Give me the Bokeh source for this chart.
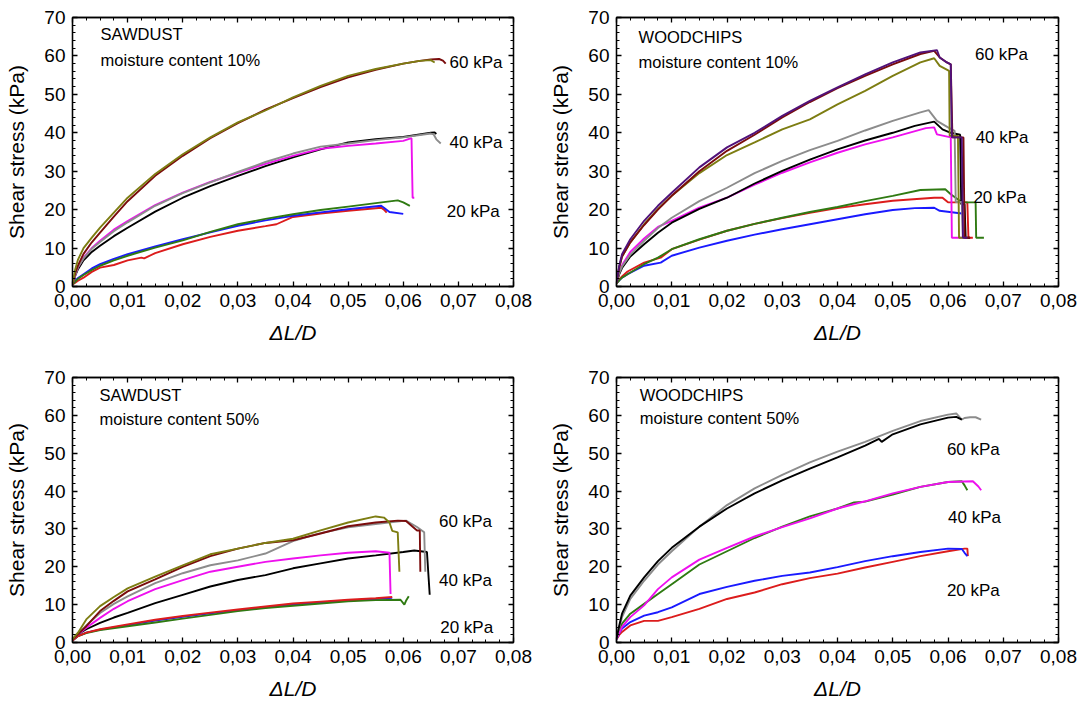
from bokeh.plotting import figure
from bokeh.models import (Range1d, LinearAxis, FixedTicker, CustomJSTickFormatter,
                          ColumnDataSource)
from bokeh.layouts import column, row
from bokeh.core.properties import value
from bokeh.embed import file_html
from bokeh.resources import INLINE

FONT = "Liberation Sans"

# ---------------- colours ----------------
OLIVE = "#7d7d12"
MAROON = "#7a0c0c"
PURPLE = "#51127a"
GREY = "#8c8c8c"
MAGENTA = "#ee10ee"
BLACK = "#000000"
BLUE = "#1a1aff"
RED = "#dc1c1c"
GREEN = "#2f7a12"

# ---------------- axes ----------------
X_TICKS = [0.0, 0.01, 0.02, 0.03, 0.04, 0.05, 0.06, 0.07, 0.08]
X_MINOR = [i * 0.0025 for i in range(33)]
Y_TICKS = [0, 10, 20, 30, 40, 50, 60, 70]
Y_MINOR = [i * 2 for i in range(36)]

# ---------------- panel 1: SAWDUST, moisture 10% ----------------
SD10_OLIVE_X = [0, 0.0005, 0.001, 0.002, 0.0035, 0.005, 0.0075, 0.01, 0.015, 0.02, 0.025, 0.03, 0.035, 0.04, 0.045, 0.05, 0.055, 0.06, 0.063, 0.065, 0.0657]
SD10_OLIVE_Y = [0.5, 4.5, 7, 10, 12.7, 15.3, 19.2, 23.1, 29.3, 34.4, 38.8, 42.7, 45.8, 49.2, 52.2, 54.8, 56.6, 58, 58.7, 58.9, 58.3]
SD10_MAROON_X = [0, 0.0005, 0.001, 0.002, 0.0035, 0.005, 0.0075, 0.01, 0.015, 0.02, 0.025, 0.03, 0.035, 0.04, 0.045, 0.05, 0.055, 0.06, 0.063, 0.065, 0.0665, 0.0672, 0.0677]
SD10_MAROON_Y = [0.5, 3.5, 5.5, 8.5, 11.5, 14, 18.2, 22.2, 28.8, 34, 38.6, 42.5, 46, 49, 51.9, 54.4, 56.4, 58, 58.7, 59.1, 59.2, 58.8, 58.0]
SD10_MAGENTA_X = [0, 0.0005, 0.001, 0.002, 0.0035, 0.005, 0.0075, 0.01, 0.015, 0.02, 0.025, 0.03, 0.035, 0.04, 0.045, 0.048, 0.05, 0.055, 0.06, 0.0615, 0.0617, 0.062]
SD10_MAGENTA_Y = [0.5, 3, 5, 7.5, 10, 11.9, 14.8, 17, 21.2, 24.4, 27.2, 29.6, 31.9, 34, 35.8, 36.3, 36.6, 37.2, 37.9, 38.6, 23.1, 23.1]
SD10_GREY_X = [0, 0.0005, 0.001, 0.002, 0.0035, 0.005, 0.0075, 0.01, 0.015, 0.02, 0.025, 0.03, 0.035, 0.04, 0.045, 0.05, 0.055, 0.06, 0.065, 0.0655, 0.066, 0.0668]
SD10_GREY_Y = [0.5, 3, 5, 7.3, 9.8, 11.6, 14.4, 16.7, 21, 24.3, 27.1, 29.8, 32.4, 34.6, 36.4, 37.2, 38.1, 38.8, 39.8, 39.6, 38.3, 37.2]
SD10_BLACK_X = [0, 0.0005, 0.001, 0.002, 0.0035, 0.005, 0.0075, 0.01, 0.015, 0.02, 0.025, 0.03, 0.035, 0.04, 0.045, 0.05, 0.055, 0.06, 0.065, 0.0657, 0.066]
SD10_BLACK_Y = [0.5, 2.8, 4.5, 6.8, 9, 10.6, 13.1, 15.3, 19.5, 23.1, 26.1, 28.8, 31.3, 33.6, 35.7, 37.5, 38.3, 38.9, 40, 40.1, 39.7]
SD10_BLUE_X = [0, 0.0005, 0.001, 0.002, 0.0035, 0.005, 0.0075, 0.01, 0.015, 0.02, 0.025, 0.03, 0.035, 0.04, 0.045, 0.05, 0.056, 0.0565, 0.0575, 0.06]
SD10_BLUE_Y = [0.5, 1.5, 2.2, 3.2, 4.7, 5.8, 7.2, 8.4, 10.4, 12.3, 14.1, 15.8, 17.2, 18.4, 19.3, 20.1, 21, 20.5, 19.4, 18.9]
SD10_GREEN_X = [0, 0.0005, 0.001, 0.002, 0.0035, 0.005, 0.0075, 0.01, 0.015, 0.02, 0.025, 0.03, 0.035, 0.04, 0.045, 0.05, 0.055, 0.059, 0.06, 0.0612]
SD10_GREEN_Y = [0.5, 1.3, 2, 3, 4.3, 5.4, 6.8, 8, 10.1, 12, 14.2, 16.2, 17.6, 18.8, 19.9, 20.8, 21.7, 22.4, 21.9, 21]
SD10_RED_X = [0, 0.0005, 0.001, 0.002, 0.0035, 0.005, 0.0075, 0.01, 0.0125, 0.013, 0.015, 0.02, 0.025, 0.03, 0.035, 0.037, 0.04, 0.045, 0.05, 0.056, 0.0565, 0.057]
SD10_RED_Y = [0.5, 1.0, 1.5, 2.3, 3.8, 4.9, 5.6, 6.8, 7.5, 7.3, 8.7, 11, 12.9, 14.5, 15.7, 16.2, 18.1, 19, 19.7, 20.5, 20, 19.2]

# ---------------- panel 2: WOODCHIPS, moisture 10% ----------------
WC10_PURPLE_X = [0, 0.0005, 0.001, 0.0025, 0.005, 0.0075, 0.01, 0.015, 0.02, 0.025, 0.03, 0.035, 0.04, 0.045, 0.05, 0.055, 0.058, 0.0585, 0.0598, 0.0605, 0.0607, 0.0625, 0.0627, 0.0635]
WC10_PURPLE_Y = [1, 5.5, 8.4, 12.3, 17.1, 21, 24.4, 31, 36.2, 40, 44.4, 48.3, 51.8, 55.2, 58.3, 60.9, 61.5, 59.6, 58.3, 57.8, 38.8, 38.8, 12.7, 12.7]
WC10_MAROON_X = [0, 0.0005, 0.001, 0.0025, 0.005, 0.0075, 0.01, 0.015, 0.02, 0.025, 0.03, 0.035, 0.04, 0.045, 0.05, 0.055, 0.0575, 0.0585, 0.0598, 0.0605, 0.0608, 0.0628, 0.063, 0.064]
WC10_MAROON_Y = [1, 5, 7.8, 11.5, 16, 20, 23.6, 30, 35.3, 39.5, 44, 48, 51.6, 54.8, 57.8, 60.5, 61.3, 59.6, 58.3, 57.8, 38.8, 38.8, 12.7, 12.7]
WC10_OLIVE_X = [0, 0.0005, 0.001, 0.0025, 0.005, 0.0075, 0.01, 0.015, 0.02, 0.025, 0.03, 0.035, 0.04, 0.045, 0.05, 0.055, 0.0575, 0.0585, 0.0602, 0.0603, 0.0618, 0.062, 0.0628]
WC10_OLIVE_Y = [1, 5, 7.8, 11.5, 16.2, 20.2, 23.6, 29.5, 34.2, 37.5, 40.9, 43.5, 47.4, 50.9, 54.8, 58.3, 59.4, 57.4, 56.1, 39.2, 39.2, 12.7, 12.7]
WC10_GREY_X = [0, 0.0005, 0.001, 0.0025, 0.005, 0.0075, 0.01, 0.015, 0.02, 0.025, 0.03, 0.035, 0.04, 0.045, 0.05, 0.055, 0.0565, 0.058, 0.06, 0.0612, 0.0614, 0.0625, 0.0627, 0.0635]
WC10_GREY_Y = [1, 3.5, 5.2, 8.3, 11.9, 15.2, 17.9, 22.2, 25.7, 29.5, 32.7, 35.5, 37.9, 40.6, 43.1, 45.3, 45.9, 43.1, 41.4, 40.5, 22, 22, 12.7, 12.7]
WC10_BLACK_X = [0, 0.0005, 0.001, 0.0025, 0.005, 0.0075, 0.01, 0.015, 0.02, 0.025, 0.03, 0.035, 0.04, 0.045, 0.05, 0.054, 0.0575, 0.059, 0.0605, 0.0622, 0.0624, 0.063, 0.0632, 0.064]
WC10_BLACK_Y = [1, 3.2, 4.8, 7.8, 11, 14, 16.6, 20.2, 23.1, 26.8, 30.1, 33, 35.7, 38, 40, 41.8, 42.9, 40.9, 40, 39.5, 21.4, 21.4, 12.7, 12.7]
WC10_MAGENTA_X = [0, 0.0005, 0.001, 0.0025, 0.005, 0.0075, 0.01, 0.015, 0.02, 0.025, 0.03, 0.035, 0.04, 0.045, 0.05, 0.056, 0.0575, 0.058, 0.0605, 0.0607, 0.0625]
WC10_MAGENTA_Y = [1, 3.5, 5.5, 9, 12.5, 15.5, 17.1, 20.5, 23.1, 26.5, 29.6, 32.3, 34.8, 37, 38.8, 41.2, 41.4, 39.6, 38.8, 12.7, 12.7]
WC10_GREEN_X = [0, 0.0005, 0.001, 0.002, 0.005, 0.0075, 0.01, 0.015, 0.02, 0.025, 0.03, 0.035, 0.04, 0.045, 0.05, 0.055, 0.0595, 0.0605, 0.0625, 0.065, 0.0651, 0.0665]
WC10_GREEN_Y = [0.8, 1.6, 2.3, 3.2, 5.8, 7.5, 9.7, 12.3, 14.5, 16.3, 17.9, 19.4, 20.7, 22.2, 23.6, 25.1, 25.3, 24, 21.9, 21.9, 12.7, 12.7]
WC10_RED_X = [0, 0.0005, 0.001, 0.002, 0.005, 0.008, 0.01, 0.015, 0.02, 0.025, 0.03, 0.035, 0.04, 0.045, 0.05, 0.0575, 0.059, 0.06, 0.0635, 0.0637, 0.0645]
WC10_RED_Y = [0.8, 1.8, 2.6, 3.9, 6.2, 7.5, 9.7, 12.2, 14.5, 16.3, 17.8, 19.2, 20.4, 21.4, 22.3, 23.1, 23.1, 21.9, 21.9, 12.7, 12.7]
WC10_BLUE_X = [0, 0.0005, 0.001, 0.002, 0.005, 0.008, 0.01, 0.015, 0.02, 0.025, 0.03, 0.035, 0.04, 0.045, 0.05, 0.054, 0.0575, 0.0585, 0.0625]
WC10_BLUE_Y = [0.8, 1.6, 2.3, 3.2, 5.4, 6.2, 8, 10.1, 11.9, 13.5, 14.9, 16.2, 17.5, 18.8, 19.9, 20.4, 20.5, 19.7, 19]

# ---------------- panel 3: SAWDUST, moisture 50% ----------------
SD50_OLIVE_X = [0, 0.0005, 0.001, 0.0025, 0.005, 0.0075, 0.01, 0.015, 0.02, 0.025, 0.03, 0.035, 0.04, 0.045, 0.05, 0.055, 0.0565, 0.0575, 0.058, 0.059, 0.0593]
SD50_OLIVE_Y = [0.8, 1.8, 2.6, 6.1, 9.6, 12, 14.3, 17.4, 20.4, 23.3, 24.8, 26.3, 27.4, 29.6, 31.7, 33.3, 33, 31.7, 29.5, 29.1, 18.7]
SD50_MAROON_X = [0, 0.0005, 0.001, 0.0025, 0.005, 0.0075, 0.01, 0.015, 0.02, 0.025, 0.03, 0.035, 0.04, 0.045, 0.05, 0.055, 0.059, 0.0605, 0.0625, 0.063, 0.0631]
SD50_MAROON_Y = [0.8, 1.5, 2.2, 4.3, 8.3, 11, 13.5, 16.7, 20, 22.8, 24.8, 26.3, 27, 28.8, 30.7, 31.7, 32.2, 32.1, 29.6, 29.6, 18.7]
SD50_GREY_X = [0, 0.0005, 0.001, 0.0025, 0.005, 0.0075, 0.01, 0.015, 0.02, 0.025, 0.03, 0.035, 0.04, 0.045, 0.05, 0.055, 0.0605, 0.0625, 0.0638, 0.064]
SD50_GREY_Y = [0.8, 1.5, 2.2, 4.5, 7.8, 10.2, 12.2, 15.7, 18.3, 20.4, 21.7, 23.5, 26.8, 28.9, 30.4, 31.3, 32.2, 30.5, 29.1, 18.7]
SD50_MAGENTA_X = [0, 0.0005, 0.001, 0.0025, 0.005, 0.0075, 0.01, 0.015, 0.02, 0.025, 0.03, 0.035, 0.04, 0.045, 0.05, 0.055, 0.0575, 0.0577]
SD50_MAGENTA_Y = [0.8, 1.5, 2.2, 3.9, 6.5, 8.9, 10.9, 14.1, 16.5, 18.7, 20, 21.3, 22.2, 23, 23.7, 24.1, 23.7, 12.8]
SD50_BLACK_X = [0, 0.0005, 0.001, 0.0025, 0.005, 0.0075, 0.01, 0.015, 0.02, 0.025, 0.03, 0.035, 0.04, 0.045, 0.05, 0.055, 0.06, 0.062, 0.0643, 0.0648]
SD50_BLACK_Y = [0.8, 1.5, 2.2, 3.5, 5.2, 6.6, 7.8, 10.4, 12.6, 14.8, 16.5, 17.8, 19.6, 20.9, 22.2, 23, 23.9, 24.3, 23.9, 12.6]
SD50_RED_X = [0, 0.0005, 0.001, 0.0025, 0.005, 0.01, 0.015, 0.02, 0.025, 0.03, 0.035, 0.04, 0.045, 0.05, 0.055, 0.058]
SD50_RED_Y = [0.5, 1.1, 1.7, 2.6, 3.5, 4.8, 6, 7, 7.9, 8.7, 9.5, 10.3, 10.8, 11.3, 11.7, 12]
SD50_BLUE_X = [0, 0.0005, 0.001, 0.0025, 0.005, 0.01, 0.015, 0.02, 0.025, 0.03, 0.035, 0.04, 0.045, 0.05, 0.055, 0.058]
SD50_BLUE_Y = [0.5, 1.1, 1.7, 2.6, 3.4, 4.6, 5.8, 6.8, 7.7, 8.5, 9.3, 10.0, 10.6, 11.1, 11.5, 11.8]
SD50_GREEN_X = [0, 0.0005, 0.001, 0.0025, 0.005, 0.01, 0.015, 0.02, 0.025, 0.03, 0.035, 0.04, 0.045, 0.05, 0.055, 0.0595, 0.0602, 0.0605, 0.061]
SD50_GREEN_Y = [0.5, 1.1, 1.7, 2.5, 3.3, 4.3, 5.3, 6.3, 7.3, 8.3, 9.1, 9.7, 10.3, 10.9, 11.2, 11.3, 10.0, 11.0, 12.2]

# ---------------- panel 4: WOODCHIPS, moisture 50% ----------------
WC50_BLACK_X = [0, 0.0005, 0.001, 0.0025, 0.005, 0.0075, 0.01, 0.015, 0.02, 0.025, 0.03, 0.035, 0.04, 0.045, 0.0475, 0.048, 0.05, 0.055, 0.06, 0.0615, 0.0625]
WC50_BLACK_Y = [1, 4.5, 7.6, 12.4, 17.2, 21.5, 25, 30.6, 35.4, 39.4, 42.8, 45.9, 48.9, 52, 53.8, 53.0, 55, 57.6, 59.4, 59.6, 58.9]
WC50_GREY_X = [0, 0.0005, 0.001, 0.0025, 0.005, 0.0075, 0.01, 0.015, 0.02, 0.025, 0.03, 0.035, 0.04, 0.045, 0.05, 0.055, 0.06, 0.0615, 0.0625, 0.063, 0.064, 0.065, 0.066]
WC50_GREY_Y = [1, 4, 6.7, 11.5, 16.3, 20.6, 24.1, 30.6, 36.3, 40.7, 44.3, 47.6, 50.4, 53, 55.9, 58.5, 60.2, 60.5, 58.9, 59.3, 59.5, 59.5, 58.9]
WC50_GREEN_X = [0, 0.0005, 0.001, 0.0025, 0.005, 0.0075, 0.01, 0.015, 0.02, 0.025, 0.03, 0.035, 0.04, 0.043, 0.045, 0.05, 0.055, 0.06, 0.0625, 0.063, 0.0635]
WC50_GREEN_Y = [1, 3, 5, 7.6, 10.2, 12.8, 15.4, 20.6, 24.1, 27.6, 30.6, 33.3, 35.4, 37, 37.2, 39.1, 41.1, 42.4, 42.6, 41.5, 40.2]
WC50_MAGENTA_X = [0, 0.0005, 0.001, 0.0025, 0.005, 0.0075, 0.01, 0.015, 0.02, 0.025, 0.03, 0.035, 0.04, 0.045, 0.05, 0.055, 0.06, 0.0645, 0.0655, 0.066]
WC50_MAGENTA_Y = [1, 2.5, 4.1, 6.7, 9.8, 14.1, 17.2, 21.9, 25, 28, 30.5, 32.8, 35.4, 37.3, 39.4, 41.1, 42.4, 42.6, 41.2, 40.2]
WC50_BLUE_X = [0, 0.0005, 0.001, 0.0025, 0.005, 0.0075, 0.01, 0.015, 0.02, 0.025, 0.03, 0.035, 0.04, 0.045, 0.05, 0.055, 0.06, 0.0625, 0.063, 0.0635]
WC50_BLUE_Y = [0.8, 2.5, 3.7, 5.4, 7.1, 8, 9.3, 12.8, 14.7, 16.3, 17.6, 18.5, 19.9, 21.5, 22.8, 23.9, 24.8, 24.7, 23.7, 22.8]
WC50_RED_X = [0, 0.0005, 0.001, 0.0025, 0.005, 0.0075, 0.01, 0.015, 0.02, 0.025, 0.03, 0.035, 0.04, 0.045, 0.05, 0.055, 0.06, 0.063, 0.0635, 0.0636]
WC50_RED_Y = [0.8, 2, 2.8, 4.5, 5.7, 5.7, 6.7, 8.9, 11.5, 13.2, 15.4, 17, 18.2, 19.8, 21.3, 22.8, 24.1, 24.8, 24.8, 22.8]

# ---------------- labels ----------------
LOAD_LABELS = ["60 kPa", "40 kPa", "20 kPa"]
P1_LABEL_X = [0.0684, 0.0684, 0.0679]
P1_LABEL_Y = [58.3, 37.5, 19.5]
P2_LABEL_X = [0.0649, 0.065, 0.0646]
P2_LABEL_Y = [60.4, 38.9, 23.1]
P3_LABEL_X = [0.0665, 0.0665, 0.0667]
P3_LABEL_Y = [32.0, 16.5, 3.9]
P4_LABEL_X = [0.0598, 0.0600, 0.0598]
P4_LABEL_Y = [51.1, 33.0, 13.8]

TITLES = [("SAWDUST", "moisture content 10%"), ("WOODCHIPS", "moisture content 10%"),
          ("SAWDUST", "moisture content 50%"), ("WOODCHIPS", "moisture content 50%")]
TITLE_X = [0.0051, 0.0040, 0.0049, 0.0042]
TITLE_Y1 = [65.8, 64.9, 65.5, 65.5]
TITLE_Y2 = [59.0, 58.3, 59.0, 59.4]


def style_axis(ax, labels=True):
    ax.axis_line_color = "black"
    ax.axis_line_width = 1.3
    ax.major_tick_in = 5
    ax.major_tick_out = 0
    ax.minor_tick_in = 3
    ax.minor_tick_out = 0
    ax.major_tick_line_color = "black"
    ax.minor_tick_line_color = "black"
    ax.major_tick_line_width = 1.3
    ax.minor_tick_line_width = 1
    if labels:
        ax.major_label_text_font = FONT
        ax.major_label_text_font_size = "19px"
        ax.major_label_text_color = "black"
        ax.axis_label_text_font = FONT
        ax.axis_label_text_font_size = "21px"
        ax.axis_label_text_color = "black"
    else:
        ax.major_label_text_font_size = "0px"
        ax.major_label_standoff = 0


def make_panel(w, h, ml, mr, mt, mb, curves, lab_x, lab_y, idx):
    p = figure(width=w, height=h, x_range=Range1d(0, 0.08), y_range=Range1d(0, 70),
               output_backend="svg", toolbar_location=None,
               min_border_left=ml, min_border_right=mr, min_border_top=mt, min_border_bottom=mb)
    p.xgrid.visible = False
    p.ygrid.visible = False
    p.outline_line_color = "black"
    p.outline_line_width = 1.3
    p.background_fill_color = "white"
    p.border_fill_color = "white"

    xt = FixedTicker(ticks=X_TICKS, minor_ticks=X_MINOR)
    yt = FixedTicker(ticks=Y_TICKS, minor_ticks=Y_MINOR)

    xa = p.xaxis[0]
    style_axis(xa)
    xa.ticker = xt
    xa.formatter = CustomJSTickFormatter(code="return tick.toFixed(2).replace('.', ',');")
    xa.axis_label = "\u0394L/D"
    xa.axis_label_text_font_style = "italic"
    xa.major_label_standoff = 7
    xa.axis_label_standoff = 11

    ya = p.yaxis[0]
    style_axis(ya)
    ya.ticker = yt
    ya.axis_label = "Shear stress (kPa)"
    ya.axis_label_text_font_style = "normal"
    ya.major_label_standoff = 7
    ya.axis_label_standoff = 13

    top = LinearAxis(ticker=xt, formatter=CustomJSTickFormatter(code="return '';"))
    style_axis(top, labels=False)
    right = LinearAxis(ticker=yt, formatter=CustomJSTickFormatter(code="return '';"))
    style_axis(right, labels=False)
    p.add_layout(top, "above")
    p.add_layout(right, "right")

    for xs, ys, col in curves:
        p.line(xs, ys, line_color=col, line_width=1.9)

    src = ColumnDataSource(dict(x=lab_x, y=lab_y, t=LOAD_LABELS))
    p.text(x="x", y="y", text="t", source=src, text_font=value(FONT),
           text_font_size=value("17px"), text_color="black",
           text_align="left", text_baseline="middle")

    tsrc = ColumnDataSource(dict(x=[TITLE_X[idx], TITLE_X[idx]],
                                 y=[TITLE_Y1[idx], TITLE_Y2[idx]],
                                 t=list(TITLES[idx])))
    p.text(x="x", y="y", text="t", source=tsrc, text_font=value(FONT),
           text_font_size=value("16.5px"), text_color="black",
           text_align="left", text_baseline="middle")
    return p


p1 = make_panel(540, 352, 72, 27, 17, 66, [
    (SD10_RED_X, SD10_RED_Y, RED),
    (SD10_BLUE_X, SD10_BLUE_Y, BLUE),
    (SD10_GREEN_X, SD10_GREEN_Y, GREEN),
    (SD10_BLACK_X, SD10_BLACK_Y, BLACK),
    (SD10_MAGENTA_X, SD10_MAGENTA_Y, MAGENTA),
    (SD10_GREY_X, SD10_GREY_Y, GREY),
    (SD10_MAROON_X, SD10_MAROON_Y, MAROON),
    (SD10_OLIVE_X, SD10_OLIVE_Y, OLIVE),
], P1_LABEL_X, P1_LABEL_Y, 0)

p2 = make_panel(540, 352, 76, 22, 17, 66, [
    (WC10_BLUE_X, WC10_BLUE_Y, BLUE),
    (WC10_RED_X, WC10_RED_Y, RED),
    (WC10_GREEN_X, WC10_GREEN_Y, GREEN),
    (WC10_MAGENTA_X, WC10_MAGENTA_Y, MAGENTA),
    (WC10_BLACK_X, WC10_BLACK_Y, BLACK),
    (WC10_GREY_X, WC10_GREY_Y, GREY),
    (WC10_OLIVE_X, WC10_OLIVE_Y, OLIVE),
    (WC10_MAROON_X, WC10_MAROON_Y, MAROON),
    (WC10_PURPLE_X, WC10_PURPLE_Y, PURPLE),
], P2_LABEL_X, P2_LABEL_Y, 1)

p3 = make_panel(540, 353, 72, 27, 25, 63, [
    (SD50_BLUE_X, SD50_BLUE_Y, BLUE),
    (SD50_GREEN_X, SD50_GREEN_Y, GREEN),
    (SD50_RED_X, SD50_RED_Y, RED),
    (SD50_BLACK_X, SD50_BLACK_Y, BLACK),
    (SD50_MAGENTA_X, SD50_MAGENTA_Y, MAGENTA),
    (SD50_GREY_X, SD50_GREY_Y, GREY),
    (SD50_MAROON_X, SD50_MAROON_Y, MAROON),
    (SD50_OLIVE_X, SD50_OLIVE_Y, OLIVE),
], P3_LABEL_X, P3_LABEL_Y, 2)

p4 = make_panel(540, 353, 76, 22, 25, 60, [
    (WC50_RED_X, WC50_RED_Y, RED),
    (WC50_BLUE_X, WC50_BLUE_Y, BLUE),
    (WC50_GREEN_X, WC50_GREEN_Y, GREEN),
    (WC50_MAGENTA_X, WC50_MAGENTA_Y, MAGENTA),
    (WC50_GREY_X, WC50_GREY_Y, GREY),
    (WC50_BLACK_X, WC50_BLACK_Y, BLACK),
], P4_LABEL_X, P4_LABEL_Y, 3)

layout = column(row(p1, p2), row(p3, p4))
open("out.html", "w").write(file_html(layout, INLINE))
